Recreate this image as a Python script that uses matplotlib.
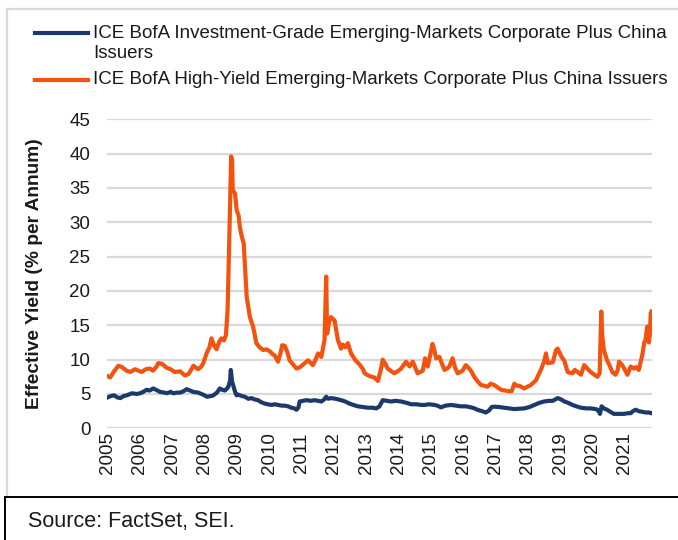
import matplotlib
matplotlib.use("Agg")
import matplotlib.pyplot as plt
from matplotlib.lines import Line2D

plt.rcParams['font.family'] = ['Liberation Sans', 'DejaVu Sans']

# ---------------- data (decimal years, % per annum) ----------------
hy_dates = [2005.00, 2005.08, 2005.20, 2005.33, 2005.45, 2005.58, 2005.70, 2005.85, 2005.95,
            2006.05, 2006.18, 2006.31, 2006.40, 2006.50, 2006.57, 2006.68, 2006.83, 2006.95,
            2007.08, 2007.24, 2007.39, 2007.50, 2007.58, 2007.65, 2007.80, 2007.90, 2007.96,
            2008.06, 2008.15, 2008.21, 2008.30, 2008.37, 2008.45, 2008.52, 2008.60, 2008.66,
            2008.71, 2008.76, 2008.82, 2008.85, 2008.87, 2008.94, 2008.99,
            2009.05, 2009.09, 2009.15, 2009.21, 2009.30, 2009.40, 2009.50, 2009.60, 2009.70,
            2009.81, 2009.91,
            2010.02, 2010.10, 2010.17, 2010.27, 2010.35, 2010.40, 2010.48, 2010.55, 2010.63,
            2010.75, 2010.84, 2010.95,
            2011.05, 2011.20, 2011.35, 2011.45, 2011.51, 2011.61, 2011.71, 2011.76, 2011.79,
            2011.85, 2011.91,
            2012.02, 2012.12, 2012.22, 2012.27, 2012.35, 2012.43, 2012.53, 2012.65, 2012.79,
            2012.90, 2012.95,
            2013.10, 2013.25, 2013.36, 2013.45, 2013.51, 2013.60, 2013.66, 2013.87, 2013.97,
            2014.08, 2014.23, 2014.34, 2014.44, 2014.52, 2014.59, 2014.75, 2014.82, 2014.90,
            2014.98,
            2015.05, 2015.10, 2015.16, 2015.26, 2015.35, 2015.42, 2015.50, 2015.57, 2015.67,
            2015.75, 2015.83, 2015.98,
            2016.08, 2016.13, 2016.25, 2016.34, 2016.45, 2016.55, 2016.65, 2016.75, 2016.85,
            2016.96,
            2017.05, 2017.17, 2017.30, 2017.40, 2017.50, 2017.58, 2017.65, 2017.73, 2017.89,
            2018.00, 2018.09, 2018.25, 2018.40, 2018.50, 2018.56, 2018.61, 2018.77, 2018.87,
            2018.92,
            2019.03, 2019.13, 2019.23, 2019.38, 2019.45, 2019.54, 2019.64, 2019.70, 2019.74,
            2019.84, 2019.92,
            2020.00, 2020.15, 2020.22, 2020.27, 2020.30, 2020.35, 2020.45, 2020.55, 2020.61,
            2020.71, 2020.78, 2020.82, 2020.92,
            2021.00, 2021.08, 2021.18, 2021.28, 2021.35, 2021.43, 2021.54, 2021.60, 2021.64,
            2021.69, 2021.72, 2021.74, 2021.77, 2021.80, 2021.82]
hy_yield = [7.6, 7.4, 8.3, 9.1, 8.9, 8.4, 8.2, 8.6, 8.4,
            8.2, 8.6, 8.7, 8.4, 8.9, 9.5, 9.4, 8.8, 8.6,
            8.2, 8.3, 7.7, 7.9, 8.5, 9.1, 8.6, 9.0, 9.5,
            10.9, 11.8, 13.1, 12.0, 11.5, 12.6, 13.1, 12.8, 13.6,
            17.2, 27.0, 39.6, 39.0, 34.7, 34.2, 31.8,
            31.0, 29.3, 27.9, 26.9, 19.2, 16.2, 14.8, 12.4, 11.8,
            11.4, 11.5,
            11.2, 10.8, 10.6, 9.7, 11.0, 12.1, 12.0, 11.2, 9.9,
            9.2, 8.7, 8.9,
            9.3, 9.9, 9.2, 10.2, 10.9, 10.4, 12.9, 22.1, 13.8,
            15.5, 16.2,
            15.7, 12.9, 11.6, 12.2, 11.8, 12.4, 10.9, 10.0, 9.3,
            8.6, 8.0,
            7.6, 7.4, 6.9, 8.5, 10.0, 9.3, 8.7, 8.0, 8.3,
            8.7, 9.7, 9.0, 9.7, 8.8, 8.0, 8.4, 10.2, 9.0,
            10.7,
            12.3, 11.5, 10.2, 10.4, 9.3, 8.5, 8.7, 9.0, 10.2,
            8.8, 8.0, 8.4,
            9.2, 9.0, 8.3, 7.5, 6.8, 6.3, 6.2, 6.05, 6.5,
            6.3,
            6.0, 5.6, 5.5, 5.4, 5.4, 6.5, 6.2, 6.2, 5.8,
            6.1, 6.3, 7.0, 8.5, 9.7, 10.9, 9.5, 9.6, 11.4,
            11.6,
            10.5, 9.8, 8.2, 8.0, 8.5, 8.2, 7.8, 8.6, 9.2,
            8.7, 8.3,
            8.0, 7.5, 8.0, 17.0, 13.5, 11.4, 9.9, 8.9, 8.2,
            7.8, 8.5, 9.7, 9.2,
            8.5, 7.8, 9.0, 8.7, 8.9, 8.5, 10.7, 12.5, 12.9,
            14.8, 14.2, 12.5, 13.5, 16.7, 17.0]

ig_dates = [2005.00, 2005.10, 2005.20, 2005.30, 2005.39, 2005.50, 2005.59, 2005.75, 2005.90,
            2006.00, 2006.10, 2006.20, 2006.30, 2006.41, 2006.50, 2006.62, 2006.75, 2006.83,
            2006.95,
            2007.03, 2007.15, 2007.24, 2007.35, 2007.44, 2007.55, 2007.65, 2007.80, 2007.90,
            2008.00, 2008.07, 2008.20, 2008.27, 2008.38, 2008.47, 2008.55, 2008.63, 2008.73,
            2008.79, 2008.81, 2008.85, 2008.90, 2008.95, 2008.99,
            2009.04, 2009.15, 2009.24, 2009.35, 2009.45, 2009.55, 2009.65, 2009.75, 2009.86,
            2009.95,
            2010.07, 2010.17, 2010.27, 2010.38, 2010.48, 2010.58, 2010.68, 2010.78, 2010.84,
            2010.90, 2010.94,
            2011.05, 2011.15, 2011.28, 2011.40, 2011.50, 2011.61, 2011.70, 2011.76, 2011.82,
            2011.91,
            2012.05, 2012.22, 2012.35, 2012.48, 2012.60, 2012.74, 2012.90,
            2013.05, 2013.20, 2013.31, 2013.41, 2013.51, 2013.65, 2013.77, 2013.90,
            2014.08, 2014.25, 2014.39, 2014.55, 2014.70, 2014.80, 2014.95,
            2015.11, 2015.20, 2015.31, 2015.45, 2015.62, 2015.78, 2015.93,
            2016.08, 2016.24, 2016.35, 2016.44, 2016.58, 2016.70, 2016.80, 2016.88, 2016.96,
            2017.10, 2017.27, 2017.42, 2017.58, 2017.75, 2017.89,
            2018.05, 2018.20, 2018.35, 2018.50, 2018.65, 2018.77, 2018.92,
            2019.03, 2019.13, 2019.25, 2019.38, 2019.50, 2019.64, 2019.80, 2019.95,
            2020.10, 2020.15, 2020.20, 2020.23, 2020.28, 2020.35, 2020.45, 2020.55, 2020.66,
            2020.80, 2020.97,
            2021.10, 2021.18, 2021.25, 2021.33, 2021.43, 2021.54, 2021.65, 2021.75, 2021.82]
ig_yield = [4.5, 4.7, 4.8, 4.5, 4.4, 4.7, 4.8, 5.1, 5.0,
            5.1, 5.3, 5.6, 5.5, 5.8, 5.6, 5.3, 5.2, 5.1,
            5.3,
            5.1, 5.2, 5.2, 5.4, 5.7, 5.5, 5.3, 5.2, 5.0,
            4.8, 4.6, 4.7, 4.8, 5.2, 5.8, 5.6, 5.5, 6.0,
            7.0, 8.5, 6.8, 6.0, 5.2, 4.8,
            4.9, 4.7, 4.6, 4.3, 4.4, 4.2, 4.1, 3.8, 3.6,
            3.5,
            3.4, 3.5, 3.4, 3.3, 3.3, 3.2, 3.0, 2.9, 2.7,
            3.0, 3.9,
            4.0, 4.1, 4.0, 4.1, 4.0, 3.9, 4.2, 4.6, 4.3,
            4.4,
            4.3, 4.1, 3.9, 3.6, 3.4, 3.2, 3.1,
            3.0, 3.0, 2.9, 3.2, 4.1, 4.0, 3.9, 4.0,
            3.9, 3.7, 3.5, 3.5, 3.4, 3.4, 3.5,
            3.4, 3.3, 3.05, 3.3, 3.4, 3.3, 3.2,
            3.2, 3.05, 2.9, 2.7, 2.5, 2.3, 2.6, 3.1, 3.15,
            3.1, 3.0, 2.9, 2.8, 2.85, 2.9,
            3.1, 3.4, 3.7, 3.9, 4.0, 4.0, 4.4,
            4.2, 3.9, 3.7, 3.4, 3.2, 3.0, 2.9, 2.9,
            2.8, 2.7, 2.4, 2.1, 3.2, 2.9, 2.7, 2.4, 2.1,
            2.1, 2.1,
            2.2, 2.2, 2.5, 2.7, 2.5, 2.4, 2.3, 2.3, 2.2]

years = list(range(2005, 2022))
yticks = list(range(0, 50, 5))

ig_label = ["ICE BofA Investment-Grade Emerging-Markets Corporate Plus China", "Issuers"]
hy_label = "ICE BofA High-Yield Emerging-Markets Corporate Plus China Issuers"
ylabel = "Effective Yield (% per Annum)"
source = "Source: FactSet, SEI."

NAVY = "#1B3A6B"
ORANGE = "#F4530F"
GRID = "#D9D9D9"
TXT = "#1a1a1a"
FS = 13.5

W, H = 678, 540
fig = plt.figure(figsize=(W / 100, H / 100), dpi=100)

def fx(px):
    return px / W

def fy(py):
    return 1 - py / H

ax = fig.add_axes([fx(107), fy(428.3), fx(651.7) - fx(107), fy(119.3) - fy(428.3)])
ax.plot(ig_dates, ig_yield, color=NAVY, lw=3.0, solid_joinstyle='round', zorder=3)
ax.plot(hy_dates, hy_yield, color=ORANGE, lw=3.0, solid_joinstyle='round', zorder=3)

ax.set_xlim(2004.98, 2021.83)
ax.set_ylim(0, 45)
ax.set_yticks(yticks)
ax.set_xticks(years)
ax.set_xticklabels([str(y) for y in years], rotation=90, fontsize=FS, color=TXT)
ax.tick_params(axis='y', labelsize=FS, colors=TXT, length=0, pad=12)
ax.tick_params(axis='x', length=0, pad=3)
ax.grid(axis='y', color=GRID, lw=1.6)
ax.set_axisbelow(True)
for s in ax.spines.values():
    s.set_visible(False)

fig.text(fx(35), (fy(119.3) + fy(428.3)) / 2, ylabel, rotation=90, fontsize=13.8,
         fontweight='bold', ha='center', va='center', color=TXT)

# legend drawn manually
fig.add_artist(Line2D([fx(35), fx(88)], [fy(33), fy(33)], color=NAVY, lw=3.0))
fig.text(fx(93), fy(33), ig_label[0], fontsize=FS, va='center', ha='left', color=TXT)
fig.text(fx(93), fy(53), ig_label[1], fontsize=FS, va='center', ha='left', color=TXT)
fig.add_artist(Line2D([fx(35), fx(88)], [fy(80), fy(80)], color=ORANGE, lw=3.0))
fig.text(fx(93), fy(80), hy_label, fontsize=FS, va='center', ha='left', color=TXT)

# frames
fig.add_artist(Line2D([fx(6.5), fx(6.5)], [fy(9), fy(496)], color=GRID, lw=1.6))
fig.add_artist(Line2D([fx(6.5), fx(W)], [fy(9), fy(9)], color=GRID, lw=1.6))
fig.add_artist(Line2D([fx(5), fx(W)], [fy(497), fy(497)], color="black", lw=1.4))
fig.add_artist(Line2D([fx(5), fx(5)], [fy(497), fy(H)], color="black", lw=1.4))
fig.text(fx(28), fy(522), source, fontsize=15.5, va='center', ha='left', color=TXT)

fig.savefig("out.png", dpi=100)
